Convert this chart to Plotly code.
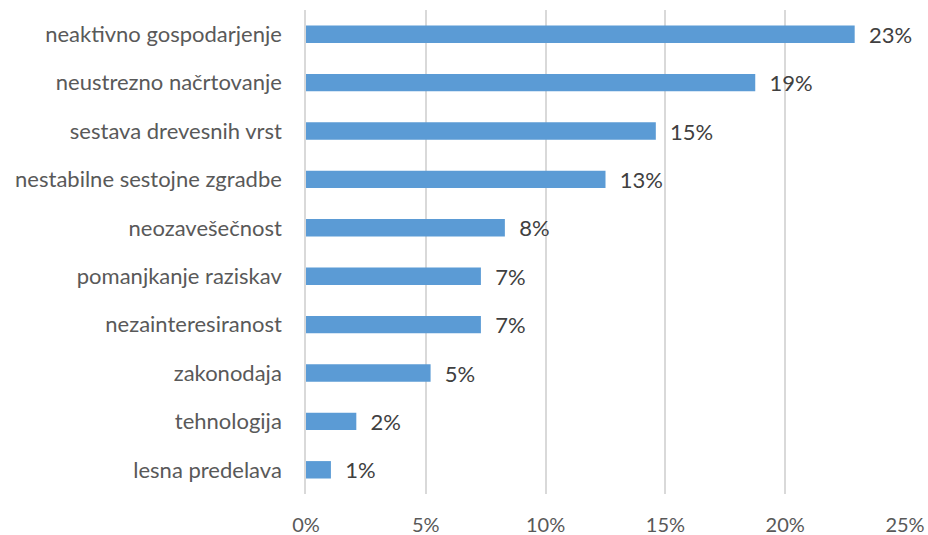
import plotly.graph_objects as go

categories = [
    "neaktivno gospodarjenje",
    "neustrezno načrtovanje",
    "sestava drevesnih vrst",
    "nestabilne sestojne zgradbe",
    "neozavešečnost",
    "pomanjkanje raziskav",
    "nezainteresiranost",
    "zakonodaja",
    "tehnologija",
    "lesna predelava",
]
values = [22.9, 18.75, 14.6, 12.5, 8.3, 7.3, 7.3, 5.2, 2.1, 1.04]
labels = ["23%", "19%", "15%", "13%", "8%", "7%", "7%", "5%", "2%", "1%"]
tick_vals = [0, 5, 10, 15, 20, 25]
tick_text = ["0%", "5%", "10%", "15%", "20%", "25%"]

FONT = "Lato, 'Open Sans', sans-serif"
FS = 22

fig = go.Figure(go.Bar(
    y=categories,
    x=values,
    orientation="h",
    marker=dict(color="#5B9BD5", line=dict(width=0)),
    text=labels,
    texttemplate="\u00a0\u00a0%{text}",
    textposition="outside",
    constraintext="none",
    textfont=dict(family=FONT, size=FS, color="#404040"),
    cliponaxis=False,
    hoverinfo="skip",
))

fig.update_layout(
    width=928, height=535,
    margin=dict(l=306, r=23, t=10, b=41, autoexpand=False),
    paper_bgcolor="white", plot_bgcolor="white",
    bargap=0.64,
    showlegend=False,
    font=dict(family=FONT, size=FS, color="#595959"),
)
fig.update_xaxes(
    range=[0, 25], tickvals=tick_vals, ticktext=tick_text,
    showgrid=True, gridcolor="#d9d9d9", gridwidth=1.5,
    zeroline=False, showline=False, ticks="",
    ticklabelstandoff=17,
    tickfont=dict(family=FONT, size=20, color="#595959"),
)
fig.update_yaxes(
    autorange="reversed", showline=True, linecolor="#d9d9d9", linewidth=1.5,
    ticks="", ticklabelstandoff=18,
    tickfont=dict(family=FONT, size=FS, color="#595959"),
)

fig.write_html("out.html", config={"displayModeBar": False},
               post_script="document.body.style.margin='0';")
